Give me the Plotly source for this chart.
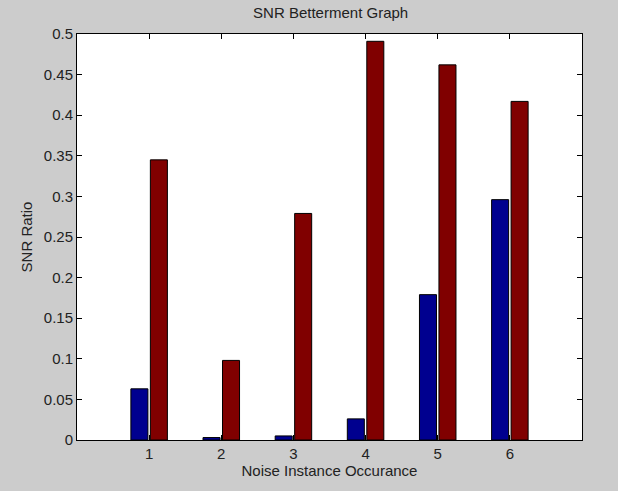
import plotly.graph_objects as go

categories = [1, 2, 3, 4, 5, 6]
series_blue = [0.063, 0.003, 0.005, 0.026, 0.179, 0.296]
series_red = [0.345, 0.098, 0.279, 0.491, 0.462, 0.417]
y_ticks = [0, 0.05, 0.1, 0.15, 0.2, 0.25, 0.3, 0.35, 0.4, 0.45, 0.5]
y_tick_labels = ["0", "0.05", "0.1", "0.15", "0.2", "0.25", "0.3", "0.35", "0.4", "0.45", "0.5"]

fig = go.Figure()
fig.add_trace(go.Bar(x=categories, y=series_blue, marker=dict(color="#00008F", line=dict(color="black", width=1)), showlegend=False))
fig.add_trace(go.Bar(x=categories, y=series_red, marker=dict(color="#800000", line=dict(color="black", width=1)), showlegend=False))

FS = 15
font = dict(family="Liberation Sans, Arial, sans-serif", size=FS, color="#222222")
fig.update_layout(
    width=618, height=491,
    margin=dict(l=77, r=36, t=34, b=51),
    paper_bgcolor="#CCCCCC", plot_bgcolor="white",
    barmode="group", bargap=0.46, bargroupgap=0.126,
    font=font,
    title=dict(text="SNR Betterment Graph", x=0.535, xanchor="center", y=0.974, yanchor="middle", font=dict(size=FS)),
)
fig.update_xaxes(
    range=[0, 7], tickmode="array", tickvals=categories, ticktext=[str(c) for c in categories],
    showline=True, linecolor="black", linewidth=1, mirror="ticks",
    ticks="inside", ticklen=5, tickcolor="black", showgrid=False, zeroline=False,
    tickfont=dict(size=FS),
    title=dict(text="Noise Instance Occurance", standoff=3, font=dict(size=FS)),
)
fig.update_yaxes(
    range=[0, 0.5], tickmode="array", tickvals=y_ticks, ticktext=y_tick_labels,
    showline=True, linecolor="black", linewidth=1, mirror="ticks",
    ticks="inside", ticklen=5, tickcolor="black", showgrid=False, zeroline=False,
    tickfont=dict(size=FS),
    title=dict(text="SNR Ratio", standoff=7, font=dict(size=FS)),
)
fig.write_html("out.html", config={"displayModeBar": False}, post_script="document.body.style.margin='0';")
